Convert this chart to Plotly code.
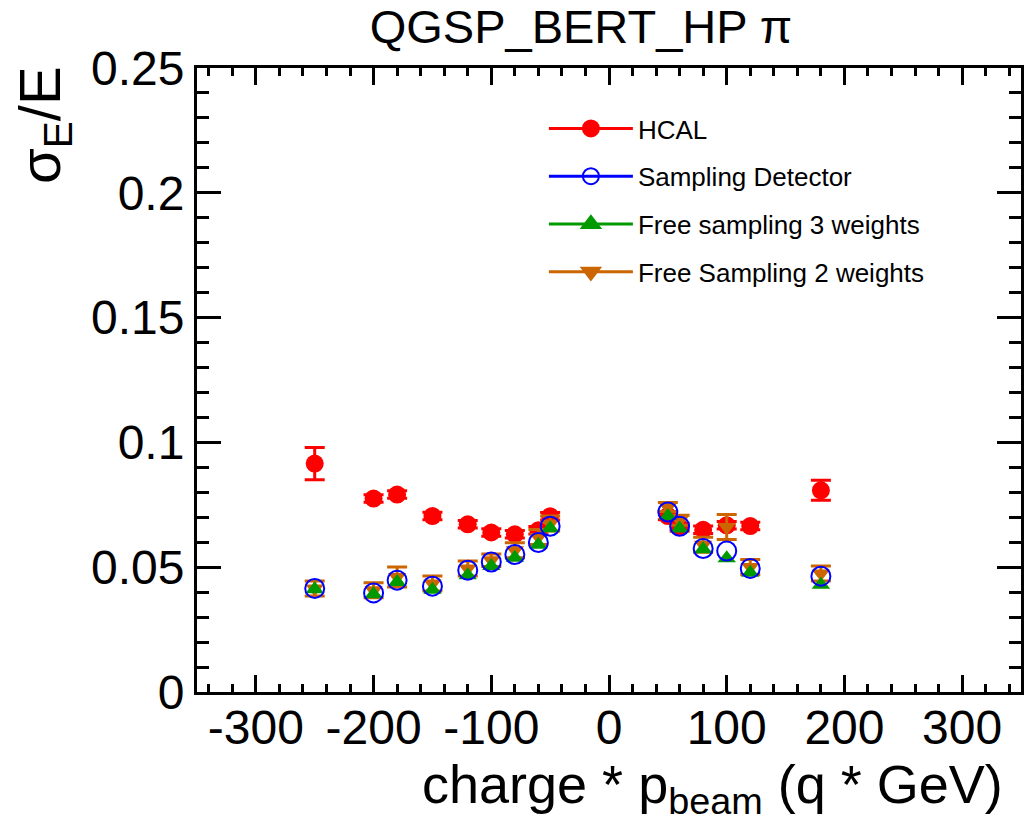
import plotly.graph_objects as go

# ---- data ----
beam = [-250, -200, -180, -150, -120, -100, -80, -60, -50, 50, 60, 80, 100, 120, 180]

hcal = [0.0915, 0.0775, 0.0791, 0.0705, 0.0672, 0.0639, 0.0632, 0.0648, 0.0704,
        0.0705, 0.0660, 0.0650, 0.0668, 0.0665, 0.0808]
hcal_err = [0.0065, 0.0015, 0.0015, 0.0015, 0.0015, 0.0015, 0.0015, 0.0015, 0.0015,
            0.0015, 0.0015, 0.0015, 0.0015, 0.0015, 0.0040]

sampling = [0.0415, 0.0397, 0.0448, 0.0424, 0.0488, 0.0521, 0.0551, 0.0599, 0.0664,
            0.0721, 0.0664, 0.0575, 0.0565, 0.0495, 0.0464]

free3 = [0.0412, 0.0392, 0.0441, 0.0410, 0.0468, 0.0505, 0.0538, 0.0590, 0.0656,
         0.0705, 0.0655, 0.0572, 0.0536, 0.0478, 0.0430]

free2 = [0.0415, 0.0408, 0.0461, 0.0435, 0.0495, 0.0528, 0.0568, 0.0621, 0.0675,
         0.0741, 0.0688, 0.0590, 0.0661, 0.0501, 0.0475]
free2_err = [0.003, 0.003, 0.004, 0.003, 0.003, 0.0025, 0.003, 0.003, 0.003,
             0.0018, 0.002, 0.003, 0.005, 0.003, 0.003]

x_tickvals = [-300, -200, -100, 0, 100, 200, 300]
x_ticktext = ["-300", "-200", "-100", "0", "100", "200", "300"]

names = ["HCAL", "Sampling Detector", "Free sampling 3 weights", "Free Sampling 2 weights"]
colors = ["#ff0000", "#0000ff", "#009a00", "#cc6600"]

FONT = "Liberation Sans, Arial, Helvetica, sans-serif"

fig = go.Figure()

# data traces (drawing order: red, brown, green, blue)
fig.add_trace(go.Scatter(
    x=beam, y=hcal, mode="markers", showlegend=False,
    marker=dict(symbol="circle", size=18, color=colors[0]),
    error_y=dict(type="data", array=hcal_err, color=colors[0], thickness=3, width=10)))
fig.add_trace(go.Scatter(
    x=beam, y=free2, mode="markers", showlegend=False,
    marker=dict(symbol="triangle-down", size=16, color=colors[3]),
    error_y=dict(type="data", array=free2_err, color=colors[3], thickness=3, width=10)))
fig.add_trace(go.Scatter(
    x=beam, y=free3, mode="markers", showlegend=False,
    marker=dict(symbol="triangle-up", size=16, color=colors[2])))
fig.add_trace(go.Scatter(
    x=beam, y=sampling, mode="markers", showlegend=False,
    marker=dict(symbol="circle-open", size=19, color=colors[1], line=dict(width=2, color=colors[1]))))

# legend entries
leg_symbols = ["circle", "circle-open", "triangle-up", "triangle-down"]
for i, (n, c, s) in enumerate(zip(names, colors, leg_symbols)):
    fig.add_trace(go.Scatter(
        x=[None], y=[None], mode="lines+markers", name=n, legendgroup=f"g{i}",
        line=dict(color=c, width=3),
        marker=dict(symbol=s, size=16, color=c, line=dict(width=2, color=c))))

axis_common = dict(
    showline=True, linecolor="black", linewidth=3, mirror="allticks",
    ticks="inside", tickwidth=3, tickcolor="black",
    showgrid=False, zeroline=False,
    tickfont=dict(family=FONT, size=48, color="black"),
)

fig.update_xaxes(range=[-350, 350], tickmode="array", tickvals=x_tickvals, ticktext=x_ticktext,
                 ticklen=17, ticklabelstandoff=-9,
                 minor=dict(tickmode="linear", tick0=0, dtick=20, ticklen=8, tickwidth=3,
                            ticks="inside", tickcolor="black"),
                 **axis_common)
fig.update_yaxes(range=[0, 0.25], dtick=0.05, tick0=0, ticklen=24,
                 minor=dict(dtick=0.01, ticklen=12, tickwidth=3, ticks="inside", tickcolor="black"),
                 **axis_common)

fig.update_layout(
    width=1031, height=825,
    margin=dict(l=197, r=10, t=68, b=133, autoexpand=False),
    paper_bgcolor="white", plot_bgcolor="white",
    font=dict(family=FONT, color="black"),
    title=dict(text="QGSP_BERT_HP π", font=dict(family=FONT, size=47, color="black"),
               xref="paper", x=0.466, xanchor="center",
               yref="container", y=1 - 27 / 825, yanchor="middle"),
    legend=dict(x=0.421, y=0.9407, xanchor="left", yanchor="top",
                font=dict(family=FONT, size=26, color="black"),
                bgcolor="rgba(0,0,0,0)", borderwidth=0,
                itemwidth=84, tracegroupgap=11, traceorder="grouped"),
    annotations=[
        dict(text="σ<sub>E</sub>/E", textangle=-90, showarrow=False,
             xref="paper", yref="paper", x=(44 - 197) / 824, y=(692 - 125) / 624,
             xanchor="center", yanchor="middle",
             font=dict(family=FONT, size=58, color="black")),
        dict(text="charge * p<sub>beam</sub> (q * GeV)", showarrow=False,
             xref="paper", yref="paper", x=(1005 - 197) / 824, y=(692 - 752) / 624,
             xanchor="right", yanchor="top",
             font=dict(family=FONT, size=54, color="black")),
    ],
)

fig.write_html("out.html")
